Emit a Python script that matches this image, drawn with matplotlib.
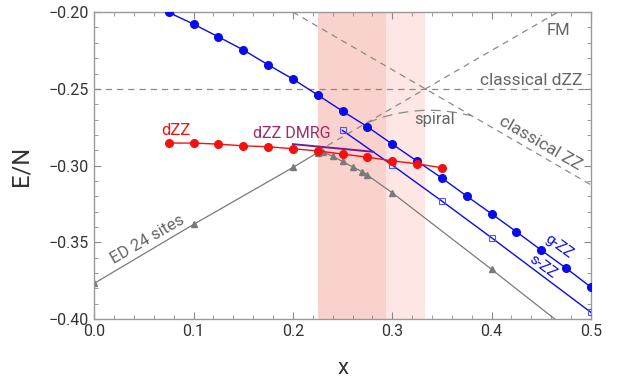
import matplotlib.pyplot as plt
import numpy as np
from matplotlib.ticker import MultipleLocator

plt.rcParams['font.family'] = ['Roboto', 'DejaVu Sans']

# g-ZZ (filled blue circles)
gzz_x = [0.075, 0.1, 0.125, 0.15, 0.175, 0.2, 0.225, 0.25, 0.275, 0.3, 0.325, 0.35,
         0.375, 0.4, 0.425, 0.45, 0.475, 0.5]
gzz_e = [-0.2002, -0.2078, -0.2161, -0.2246, -0.2343, -0.2436, -0.2540, -0.2645, -0.2747,
         -0.2860, -0.2971, -0.3081, -0.3199, -0.3314, -0.3431, -0.3551, -0.3668, -0.3792]

# s-ZZ (open blue squares)
szz_x = [0.25, 0.3, 0.35, 0.4, 0.5]
szz_e = [-0.2771, -0.2997, -0.3231, -0.3470, -0.3956]

# dZZ (red circles)
dzz_x = [0.075, 0.1, 0.125, 0.15, 0.175, 0.2, 0.225, 0.25, 0.275, 0.3, 0.325, 0.35]
dzz_e = [-0.2853, -0.2853, -0.2860, -0.2871, -0.2877, -0.2890, -0.2904, -0.2925, -0.2945,
         -0.2969, -0.2988, -0.3014]

# dZZ DMRG
dmrg_x = [0.2, 0.281]
dmrg_e = [-0.2860, -0.2910]

# ED 24 sites (grey triangles)
ed_x = [0.0, 0.1, 0.2, 0.225, 0.23, 0.24, 0.25, 0.26, 0.27, 0.275, 0.3, 0.4, 0.5]
ed_e = [-0.3767, -0.3383, -0.3012, -0.2915, -0.2910, -0.2939, -0.2973, -0.3008, -0.3040,
        -0.3062, -0.3177, -0.3676, -0.4185]

# classical energies (dashed)
fm_x = [0.225, 0.5]
fm_e = [-0.2906, -0.1875]
czz_x = [0.19, 0.5]
czz_e = [-0.19625, -0.3125]
cdzz_x = [0.0, 0.5]
cdzz_e = [-0.25, -0.25]
spiral_x = [0.275, 0.29, 0.305, 0.32, 0.335, 0.35, 0.365, 0.38]
spiral_e = [-0.2720, -0.2685, -0.2660, -0.2645, -0.2638, -0.2642, -0.2655, -0.2675]

# shaded regions
band_dark = (0.225, 0.294)
band_light = (0.294, 0.333)

blue = '#0a0aef'
red = '#f5100f'
grey = '#7a7a7a'
dgrey = '#8a8a8a'

fig = plt.figure(figsize=(6.28, 3.79), dpi=100)
ax = fig.add_axes([0.150, 0.158, 0.791, 0.810])

ax.axvspan(*band_dark, color='#f9d2ce', lw=0, zorder=0)
ax.axvspan(*band_light, color='#fde6e4', lw=0, zorder=0)

dash = dict(color=dgrey, lw=0.9, ls=(0, (5, 4)), zorder=1)
ax.plot(fm_x, fm_e, **dash)
ax.plot(czz_x, czz_e, **dash)
ax.plot(cdzz_x, cdzz_e, **dash)
ax.plot(spiral_x, spiral_e, color=dgrey, lw=0.9, ls=(0, (8, 5)), zorder=1)

ax.plot(ed_x, ed_e, color=grey, lw=0.9, marker='^', ms=5, mec=grey, mfc=grey, zorder=2)
ax.plot(szz_x, szz_e, color=blue, lw=1.0, marker='s', ms=4, mfc='none', mec='#5555ff',
        mew=0.8, zorder=3)
ax.plot(gzz_x, gzz_e, color=blue, lw=1.0, marker='o', ms=5.5, zorder=4)
ax.plot(dzz_x, dzz_e, color=red, lw=1.0, marker='o', ms=5.5, zorder=4)
ax.plot(dmrg_x, dmrg_e, color='#7a1a8a', lw=1.4, zorder=5)

ax.set_xlim(0, 0.5)
ax.set_ylim(-0.40, -0.20)
ax.xaxis.set_major_locator(MultipleLocator(0.1))
ax.xaxis.set_minor_locator(MultipleLocator(0.02))
ax.yaxis.set_major_locator(MultipleLocator(0.05))
ax.yaxis.set_minor_locator(MultipleLocator(0.01))
ax.xaxis.set_major_formatter(plt.FuncFormatter(lambda v, p: f'{v:.1f}'))
ax.yaxis.set_major_formatter(plt.FuncFormatter(lambda v, p: f'\u2212{abs(v):.2f}'))
ax.tick_params(which='both', direction='in', top=True, right=True, color='#888888',
               labelcolor='#333333', labelsize=11.5)
ax.tick_params(which='major', length=5, width=0.8)
ax.tick_params(which='minor', length=3, width=0.6)
for s in ax.spines.values():
    s.set_color('#999999')
    s.set_linewidth(1.0)

ax.set_xlabel('x', fontsize=16, color='#333333', labelpad=14)
ax.set_ylabel('E/N', fontsize=17, color='#333333', labelpad=12)

tk = dict(fontsize=12, ha='center', va='center')
ax.text(0.0825, -0.2769, 'dZZ', color=red, **tk)
ax.text(0.1987, -0.2790, 'dZZ DMRG', color='#a02a6a', fontsize=11.5, ha='center', va='center')
ax.text(0.343, -0.2697, 'spiral', color='#666666', **tk)
ax.text(0.467, -0.2117, 'FM', color='#666666', **tk)
ax.text(0.4396, -0.2443, 'classical dZZ', color='#666666', fontsize=12.5, ha='center', va='center')
ax.text(0.4487, -0.2853, 'classical ZZ', color='#666666', rotation=-30, fontsize=12.5,
        ha='center', va='center')
ax.text(0.4678, -0.3529, 'g-ZZ', color=blue, rotation=-36, fontsize=11, ha='center', va='center')
ax.text(0.4517, -0.3661, 's-ZZ', color=blue, rotation=-36, fontsize=11, ha='center', va='center')
ax.text(0.0533, -0.3479, 'ED 24 sites', color='#666666', rotation=30, **tk)

fig.savefig('out.png', dpi=100)
